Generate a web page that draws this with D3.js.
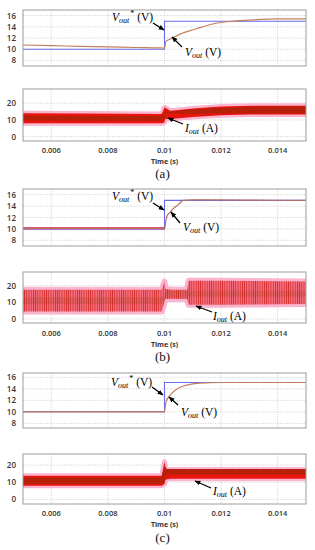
<!DOCTYPE html>
<html><head><meta charset="utf-8">
<script src="https://cdn.jsdelivr.net/npm/d3@7"></script>
<style>
html,body{margin:0;padding:0;background:#fff;}
svg{display:block;}
</style></head>
<body>
<svg id="chart" width="315" height="550"></svg>
<script>
// ---------------- DATA ----------------
const xTicks = [0.006, 0.008, 0.01, 0.012, 0.014];
const xTickLabels = ["0.006", "0.008", "0.01", "0.012", "0.014"];
const vTicks = [8, 10, 12, 14, 16];
const iTicks = [0, 10, 20];
const panelLabels = ["(a)", "(b)", "(c)"];

// reference voltage V_out* (same in all three cases)
const refT = [0.005, 0.01, 0.01, 0.015];
const refV = [10.0, 10.0, 15.0, 15.0];
const refVc = [10.05, 10.05, 15.1, 15.1];

// output voltage, case (a)
const voutAT = [0.005, 0.006, 0.007, 0.008, 0.009, 0.0099, 0.01, 0.01005, 0.0102, 0.01055, 0.0111, 0.0117, 0.0123, 0.013, 0.014, 0.015];
const voutAV = [10.75, 10.65, 10.5, 10.4, 10.3, 10.22, 10.2, 11.4, 11.8, 12.7, 13.6, 14.5, 14.95, 15.2, 15.4, 15.4];
// output voltage, case (b)
const voutBT = [0.005, 0.0099, 0.01, 0.01005, 0.0101, 0.0102, 0.0103, 0.0105, 0.01066, 0.011, 0.013, 0.015];
const voutBV = [10.1, 10.1, 10.0, 11.5, 12.4, 12.9, 13.5, 14.3, 15.0, 15.1, 15.05, 15.0];
const rippleBT = [0.005, 0.01];
const rippleBLo = [9.85, 9.85];
const rippleBHi = [10.35, 10.35];
// output voltage, case (c)
const voutCT = [0.005, 0.0099, 0.01, 0.01005, 0.0102, 0.01043, 0.01078, 0.01125, 0.012, 0.015];
const voutCV = [10.0, 10.0, 10.0, 11.7, 12.9, 13.95, 14.65, 15.0, 15.1, 15.1];

// output current envelopes, case (a)
const curAT  = [0.005, 0.007, 0.0099, 0.01, 0.01002, 0.0102, 0.0105, 0.011, 0.012, 0.013, 0.014, 0.015];
const curAHi = [14.0, 13.8, 13.5, 17.5, 17.5, 15.5, 16.0, 16.8, 18.0, 18.5, 18.5, 18.5];
const curALo = [8.0, 8.0, 8.0, 8.5, 10.5, 10.5, 11.0, 11.8, 12.8, 13.2, 13.3, 13.3];
const curADHi = [12.6, 12.4, 12.3, 14.0, 15.0, 15.0, 15.5, 16.3, 17.3, 17.8, 18.0, 18.0];
const curADLo = [9.6, 9.5, 9.3, 10.5, 13.6, 13.8, 13.9, 13.6, 13.8, 14.0, 14.0, 14.0];
// case (b)
const curBT  = [0.005, 0.0099, 0.01, 0.01003, 0.0103, 0.0108, 0.01085, 0.012, 0.015];
const curBHi = [17.5, 17.5, 22.5, 18.0, 17.5, 17.5, 23.0, 23.0, 22.5];
const curBLo = [4.5, 4.5, 10.0, 12.0, 12.0, 12.0, 8.5, 8.5, 9.0];
const curBDHi = [13.0, 13.0, 14.0, 17.0, 17.0, 17.0, 17.0, 17.0, 17.0];
const curBDLo = [9.0, 9.0, 11.0, 13.0, 13.0, 13.0, 13.5, 13.5, 13.5];
// case (c)
const curCT  = [0.005, 0.0099, 0.01, 0.01003, 0.0101, 0.0102, 0.015];
const curCHi = [13.8, 13.8, 22.0, 19.0, 17.5, 17.5, 17.5];
const curCLo = [8.0, 8.0, 9.0, 11.5, 11.8, 12.0, 12.0];
const curCDHi = [12.8, 12.8, 20.0, 18.0, 17.8, 17.8, 17.8];
const curCDLo = [9.0, 9.0, 9.5, 13.5, 14.5, 14.5, 14.5];

// ---------------- LAYOUT ----------------
const svg = d3.select("#chart");
const X0 = 23, X1 = 306;
const x = d3.scaleLinear().domain([0.005, 0.015]).range([X0, X1]);

const defs = svg.append("defs");
const osc = defs.append("pattern").attr("id", "osc").attr("patternUnits", "userSpaceOnUse")
  .attr("width", 2.2).attr("height", 10);
osc.append("rect").attr("width", 2.2).attr("height", 10).attr("fill", "#f47080");
osc.append("rect").attr("width", 0.8).attr("height", 10).attr("fill", "#d42a2a");
const dense = defs.append("pattern").attr("id", "dense").attr("patternUnits", "userSpaceOnUse")
  .attr("width", 2).attr("height", 10);
dense.append("rect").attr("width", 2).attr("height", 10).attr("fill", "#9a2a08");
dense.append("rect").attr("width", 0.7).attr("height", 10).attr("fill", "#c8200c");

const panels = [
  { top: [10, 66], vdom: [7, 17], bot: [89, 141], idom: [-2.6, 28.5], tickY: 153, timeY: 164, capY: 178,
    ref: refV, vT: voutAT, vV: voutAV, cT: curAT, cHi: curAHi, cLo: curALo, dHi: curADHi, dLo: curADLo,
    vColor: "#c4805c", fillMain: "#e8140e", fillDark: "url(#dense)", halo: 5,
    vs: { tx: 112, ty: 21, a: [153, 23, 164, 30] }, vo: { tx: 185, ty: 56, a: [182, 47, 172, 37] },
    io: { tx: 185, ty: 132, a: [183, 124, 168, 118] } },
  { top: [189, 246], vdom: [7, 17], bot: [272, 323], idom: [-2.4, 28.2], tickY: 336, timeY: 347, capY: 361,
    ref: refV, vT: voutBT, vV: voutBV, cT: curBT, cHi: curBHi, cLo: curBLo, dHi: curBDHi, dLo: curBDLo,
    vColor: "#b87060", fillMain: "url(#osc)", fillDark: "none", halo: 6,
    vs: { tx: 112, ty: 200, a: [153, 203, 164, 210] }, vo: { tx: 183, ty: 231, a: [180, 223, 171, 212] },
    io: { tx: 213, ty: 320, a: [212, 312, 196, 306] }, ripple: true },
  { top: [373, 428], vdom: [7.2, 16.75], bot: [454, 504], idom: [-2.7, 26.5], tickY: 516, timeY: 527, capY: 542,
    ref: refVc, vT: voutCT, vV: voutCV, cT: curCT, cHi: curCHi, cLo: curCLo, dHi: curCDHi, dLo: curCDLo,
    vColor: "#c4805c", fillMain: "#e8140e", fillDark: "url(#dense)", halo: 5,
    vs: { tx: 111, ty: 386, a: [152, 387, 163, 395] }, vo: { tx: 181, ty: 416, a: [178, 405, 169, 397] },
    io: { tx: 213, ty: 495, a: [211, 488, 195, 481] } }
];

defs.append("marker").attr("id", "arr").attr("viewBox", "0 0 10 10").attr("refX", 9).attr("refY", 5)
  .attr("markerWidth", 6).attr("markerHeight", 6).attr("orient", "auto").attr("markerUnits", "userSpaceOnUse")
  .append("path").attr("d", "M0,1 L10,5 L0,9 Z").attr("fill", "#000");

const tickFont = "'Open Sans', sans-serif";

function frame(g, y0, y1, yScale, ticks, id) {
  defs.append("clipPath").attr("id", id).append("rect")
    .attr("x", X0).attr("y", y0).attr("width", X1 - X0).attr("height", y1 - y0);
  g.append("rect").attr("x", X0).attr("y", y0).attr("width", X1 - X0).attr("height", y1 - y0).attr("fill", "#fff");
  const grid = g.append("g").attr("stroke", "#c4c4c4").attr("stroke-width", 0.8).attr("stroke-dasharray", "1,1.4");
  xTicks.forEach(t => grid.append("line").attr("x1", x(t)).attr("x2", x(t)).attr("y1", y0).attr("y2", y1));
  ticks.forEach(t => grid.append("line").attr("x1", X0).attr("x2", X1).attr("y1", yScale(t)).attr("y2", yScale(t)));
  const ax = d3.axisLeft(yScale).tickValues(ticks).tickSize(0).tickPadding(7);
  const ag = g.append("g").attr("transform", `translate(${X0},0)`).call(ax);
  ag.select(".domain").remove();
  ag.selectAll("text").attr("font-family", tickFont).attr("font-weight", 600).attr("font-size", 8).attr("fill", "#333");
  return g.append("g").attr("clip-path", `url(#${id})`);
}

function vLabel(g, tx, ty, star) {
  const t = g.append("text").attr("x", tx).attr("y", ty).attr("font-family", "'Liberation Serif', serif")
    .attr("font-size", 11.5).attr("fill", "#000");
  t.append("tspan").attr("font-style", "italic").text("V");
  t.append("tspan").attr("font-style", "italic").attr("font-size", 8).attr("dy", 2).text("out");
  if (star) t.append("tspan").attr("font-size", 8).attr("dy", -7).attr("dx", 1).text("*");
  t.append("tspan").attr("dy", star ? 5 : -2).text(" (V)");
}
function iLabel(g, tx, ty) {
  const t = g.append("text").attr("x", tx).attr("y", ty).attr("font-family", "'Liberation Serif', serif")
    .attr("font-size", 11.5).attr("fill", "#000");
  t.append("tspan").attr("font-style", "italic").text("I");
  t.append("tspan").attr("font-style", "italic").attr("font-size", 8).attr("dy", 2).text("out");
  t.append("tspan").attr("dy", -2).text(" (A)");
}
function arrow(g, a) {
  g.append("line").attr("x1", a[0]).attr("y1", a[1]).attr("x2", a[2]).attr("y2", a[3])
    .attr("stroke", "#000").attr("stroke-width", 1.3).attr("marker-end", "url(#arr)");
}

panels.forEach((p, i) => {
  const g = svg.append("g");
  // ---- voltage plot
  const yv = d3.scaleLinear().domain(p.vdom).range([p.top[1], p.top[0]]);
  const pv = frame(g, p.top[0], p.top[1], yv, vTicks, "cv" + i);
  if (p.ripple) {
    pv.append("path").datum(d3.range(rippleBT.length))
      .attr("d", d3.area().x(k => x(rippleBT[k])).y0(k => yv(rippleBLo[k])).y1(k => yv(rippleBHi[k])))
      .attr("fill", "#e8305a").attr("opacity", 0.85);
  }
  pv.append("path").datum(d3.range(refT.length))
    .attr("d", d3.line().x(k => x(refT[k])).y(k => yv(p.ref[k])))
    .attr("fill", "none").attr("stroke", "#6a6af0").attr("stroke-width", 1.1);
  pv.append("path").datum(d3.range(p.vT.length))
    .attr("d", d3.line().x(k => x(p.vT[k])).y(k => yv(p.vV[k])).curve(d3.curveMonotoneX))
    .attr("fill", "none").attr("stroke", p.vColor).attr("stroke-width", 1.2);

  // ---- current plot
  const yi = d3.scaleLinear().domain(p.idom).range([p.bot[1], p.bot[0]]);
  const pi = frame(g, p.bot[0], p.bot[1], yi, iTicks, "ci" + i);
  const idx = d3.range(p.cT.length);
  const outer = d3.area().x(k => x(p.cT[k])).y0(k => yi(p.cLo[k])).y1(k => yi(p.cHi[k]));
  pi.append("path").datum(idx).attr("d", outer).attr("fill", "#fab4d0")
    .attr("stroke", "#fab4d0").attr("stroke-width", p.halo).attr("stroke-linejoin", "round");
  pi.append("path").datum(idx).attr("d", outer).attr("fill", p.fillMain);
  if (p.fillDark !== "none") {
    pi.append("path").datum(idx)
      .attr("d", d3.area().x(k => x(p.cT[k])).y0(k => yi(p.dLo[k])).y1(k => yi(p.dHi[k])))
      .attr("fill", p.fillDark);
  } else {
    pi.append("path").datum(idx)
      .attr("d", d3.area().x(k => x(p.cT[k])).y0(k => yi(p.dLo[k])).y1(k => yi(p.dHi[k])))
      .attr("fill", "#a8401c").attr("opacity", 0.25);
  }

  // frames on top
  [[p.top[0], p.top[1]], [p.bot[0], p.bot[1]]].forEach(r =>
    g.append("rect").attr("x", X0).attr("y", r[0]).attr("width", X1 - X0).attr("height", r[1] - r[0])
      .attr("fill", "none").attr("stroke", "#9c9c9c").attr("stroke-width", 1));

  // x tick labels
  xTicks.forEach((t, k) => g.append("text").attr("x", x(t)).attr("y", p.tickY).attr("text-anchor", "middle")
    .attr("font-family", tickFont).attr("font-weight", 600).attr("font-size", 7.5).attr("fill", "#333")
    .text(xTickLabels[k]));
  g.append("text").attr("x", x(0.01)).attr("y", p.timeY).attr("text-anchor", "middle")
    .attr("font-family", tickFont).attr("font-weight", 700).attr("font-size", 7).attr("fill", "#333").text("Time (s)");
  g.append("text").attr("x", x(0.01) - 2).attr("y", p.capY).attr("text-anchor", "middle")
    .attr("font-family", "'Liberation Serif', serif").attr("font-size", 13).attr("fill", "#111").text(panelLabels[i]);

  // annotations
  vLabel(g, p.vs.tx, p.vs.ty, true); arrow(g, p.vs.a);
  vLabel(g, p.vo.tx, p.vo.ty, false); arrow(g, p.vo.a);
  iLabel(g, p.io.tx, p.io.ty); arrow(g, p.io.a);
});
</script>
</body></html>
